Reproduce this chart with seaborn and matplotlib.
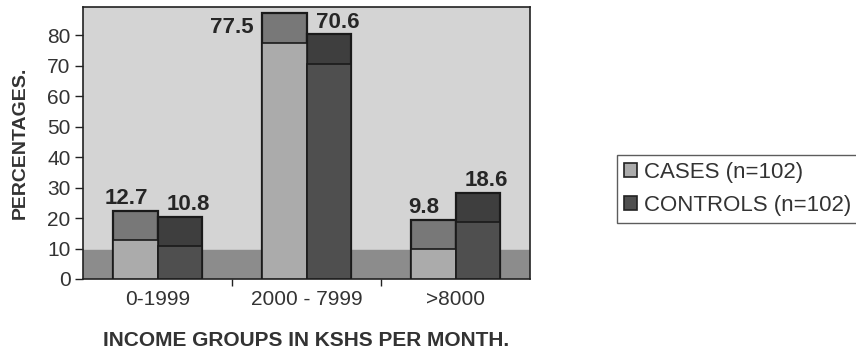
import numpy as np
import pandas as pd
import seaborn as sns
import matplotlib.pyplot as plt
from matplotlib.patches import Patch
from matplotlib.ticker import FixedLocator

# Income distribution of cases and controls (percent)
income_groups = ["0-1999", "2000 - 7999", ">8000"]
groups = ["CASES (n=102)", "CONTROLS (n=102)"]
cases_pct = [12.7, 77.5, 9.8]
controls_pct = [10.8, 70.6, 18.6]

DEPTH = 9.6      # apparent height of the 3-D bar tops and floor
YMAX = 89.2

front_colors = {groups[0]: "#ababab", groups[1]: "#4f4f4f"}
top_colors = {groups[0]: "#787878", groups[1]: "#3e3e3e"}

df = pd.DataFrame({
    "income": income_groups * 2,
    "group": [groups[0]] * 3 + [groups[1]] * 3,
    "pct": cases_pct + controls_pct,
})
df["top"] = df["pct"] + DEPTH

sns.set_theme(style="white")
plt.rcParams["font.family"] = ["Liberation Sans", "DejaVu Sans"]

fig = plt.figure(figsize=(8.56, 3.49), dpi=100)
ax = fig.add_axes([83 / 856, 1 - 279 / 349, (530 - 83) / 856, (279 - 7) / 349])
ax.set_facecolor("#d4d4d4")

# floor band
ax.axhspan(0, DEPTH, color="#8c8c8c", zorder=0.5)

# bar tops (drawn full height), then the front faces over them
sns.barplot(data=df, x="income", y="top", hue="group", order=income_groups,
            hue_order=groups, palette=top_colors, width=0.6, ax=ax,
            edgecolor="#1a1a1a", linewidth=1.6, legend=False, zorder=2)
sns.barplot(data=df, x="income", y="pct", hue="group", order=income_groups,
            hue_order=groups, palette=front_colors, width=0.6, ax=ax,
            edgecolor="#1a1a1a", linewidth=1.2, legend=False, zorder=3)

ax.set_xlim(-0.5, 2.5)
ax.set_ylim(0, YMAX)

# value labels above each bar
front_bars = ax.containers[2:]
for gi, (cont, vals) in enumerate(zip(front_bars, [cases_pct, controls_pct])):
    for bar, v in zip(cont.patches, vals):
        xc = bar.get_x() + bar.get_width() / 2
        ytop = v + DEPTH + 4.0
        dx = -0.06 if gi == 0 else 0.06
        if ytop > YMAX - 4:
            xc, ytop, dx = bar.get_x() - 0.2, v + 5.0, 0
        ax.text(xc + dx, ytop, f"{v:.1f}", ha="center", va="center",
                fontsize=16, fontweight="bold", color="#262626", zorder=5)

# axes styling
for s in ax.spines.values():
    s.set_visible(True)
    s.set_color("#222222")
    s.set_linewidth(1.2)

ax.set_yticks(np.arange(0, 81, 10))
ax.tick_params(axis="y", left=True, length=6, width=1, pad=3, labelsize=15,
               labelcolor="#333333", color="#222222")
ax.tick_params(axis="x", bottom=False, length=0, pad=8, labelsize=15,
               labelcolor="#333333")
ax.xaxis.set_minor_locator(FixedLocator([0.5, 1.5]))
ax.tick_params(axis="x", which="minor", bottom=True, length=5, width=1,
               color="#222222")

ax.set_xlabel("INCOME GROUPS IN KSHS PER MONTH.", fontsize=15,
              fontweight="bold", color="#333333", labelpad=16)
ax.set_ylabel("PERCENTAGES.", fontsize=14, fontweight="bold",
              color="#333333", labelpad=13)

handles = [Patch(facecolor=front_colors[g], edgecolor="#222222", linewidth=1.2)
           for g in groups]
fig.legend(handles, groups, loc="upper left",
           bbox_to_anchor=(617 / 856, 1 - 155 / 349), fontsize=16,
           frameon=True, fancybox=False, edgecolor="#333333",
           handlelength=0.6, handleheight=0.6, handletextpad=0.3,
           borderpad=0.3, labelspacing=0.55, borderaxespad=0,
           labelcolor="#333333")

fig.savefig("out.png", dpi=100, facecolor="white")
